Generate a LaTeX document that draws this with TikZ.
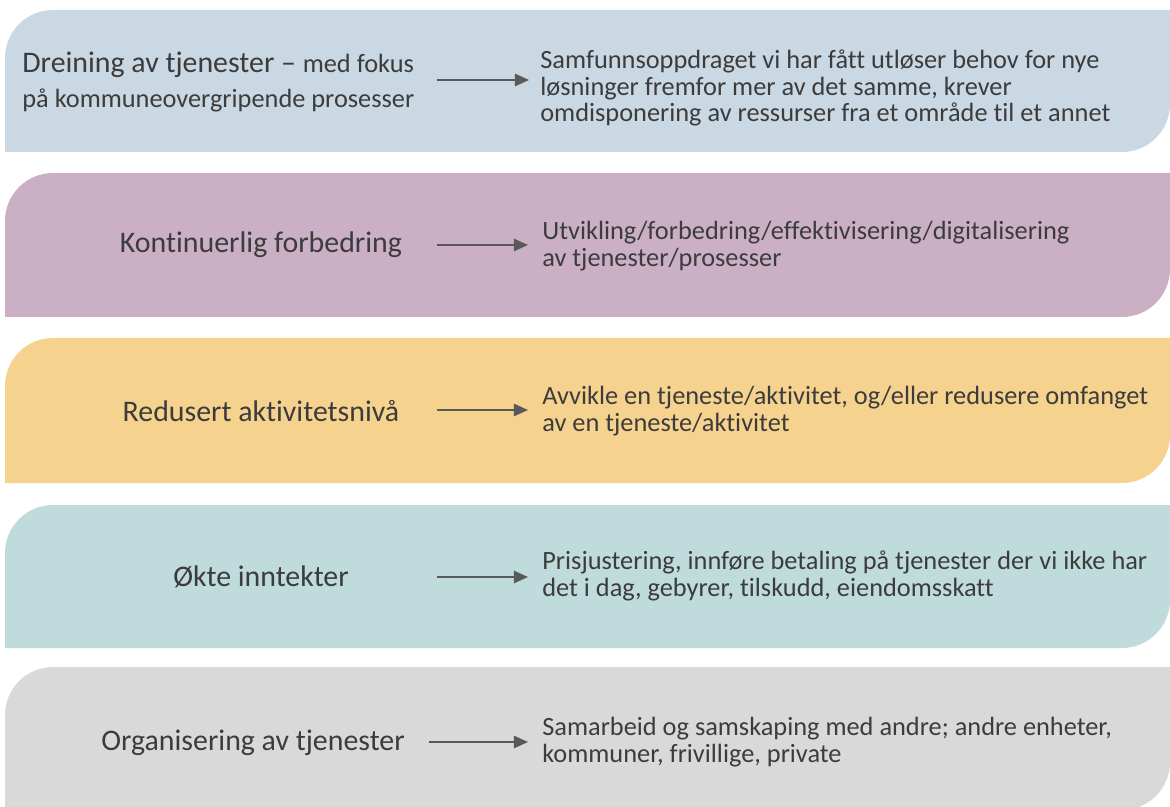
\documentclass[tikz,border=0pt]{standalone}
\usepackage{fontspec}
\setmainfont{Carlito}[Ligatures={NoCommon}]
\usetikzlibrary{arrows.meta}

\definecolor{bandblue}{HTML}{C9D8E2}
\definecolor{bandmauve}{HTML}{CAAFC5}
\definecolor{bandsand}{HTML}{F6D28F}
\definecolor{bandteal}{HTML}{BFDBDB}
\definecolor{bandgrey}{HTML}{D9D9D9}
\definecolor{inkgrey}{HTML}{3C3C3C}

\begin{document}
\begin{tikzpicture}[x=0.02cm, y=-0.02cm,
  lefttext/.style={text=inkgrey, font=\fontsize{17}{21}\selectfont, align=center, inner sep=0pt},
  righttext/.style={anchor=west, text=inkgrey, font=\fontsize{15}{15.3}\selectfont, align=left, inner sep=0pt},
  flow/.style={draw=inkgrey!85, line width=0.9pt, -{Triangle[length=8pt,width=7pt]}}]

\useasboundingbox (0,0) rectangle (1170,807);

% bands
\fill[bandblue] (5,152) -- (5,58) arc[start angle=180, end angle=270, radius=48] -- (1170,10) -- (1170,104) arc[start angle=0, end angle=90, radius=48] -- cycle;
\fill[bandmauve] (5,317) -- (5,221) arc[start angle=180, end angle=270, radius=48] -- (1170,173) -- (1170,269) arc[start angle=0, end angle=90, radius=48] -- cycle;
\fill[bandsand] (5,483) -- (5,386) arc[start angle=180, end angle=270, radius=48] -- (1170,338) -- (1170,435) arc[start angle=0, end angle=90, radius=48] -- cycle;
\fill[bandteal] (5,648) -- (5,553) arc[start angle=180, end angle=270, radius=48] -- (1170,505) -- (1170,600) arc[start angle=0, end angle=90, radius=48] -- cycle;
\fill[bandgrey] (5,810) -- (5,715) arc[start angle=180, end angle=270, radius=48] -- (1170,667) -- (1170,762) arc[start angle=0, end angle=90, radius=48] -- cycle;

% left labels
\node[lefttext, anchor=west, align=left] (dreining) at (22,82) {Dreining av tjenester -- {\fontsize{15}{18}\selectfont med fokus}\\[-1pt]{\fontsize{15}{18}\selectfont på kommuneovergripende prosesser}};
\node[lefttext] (kontinuerlig) at (261,245) {Kontinuerlig forbedring};
\node[lefttext] (redusert) at (261,411) {Redusert aktivitetsnivå};
\node[lefttext] (inntekter) at (261,577) {Økte inntekter};
\node[lefttext] (organisering) at (253,743) {Organisering av tjenester};

% right texts
\node[righttext] (dreiningtxt) at (540,88) {Samfunnsoppdraget vi har fått utløser behov for nye\\løsninger fremfor mer av det samme, krever\\omdisponering av ressurser fra et område til et annet};
\node[righttext] (kontinuerligtxt) at (542,246) {Utvikling/forbedring/effektivisering/digitalisering\\av tjenester/prosesser};
\node[righttext] (redusertxt) at (542,411) {Avvikle en tjeneste/aktivitet, og/eller redusere omfanget\\av en tjeneste/aktivitet};
\node[righttext] (inntektertxt) at (542,576) {Prisjustering, innføre betaling på tjenester der vi ikke har\\det i dag, gebyrer, tilskudd, eiendomsskatt};
\node[righttext] (organiseringtxt) at (542,742) {Samarbeid og samskaping med andre; andre enheter,\\kommuner, frivillige, private};

% arrows
\coordinate (a1) at (437,80);
\coordinate (b1) at (529,80);
\coordinate (a2) at (437,245);
\coordinate (b2) at (528,245);
\coordinate (a3) at (437,410);
\coordinate (b3) at (528,410);
\coordinate (a4) at (437,577);
\coordinate (b4) at (528,577);
\coordinate (a5) at (429,742);
\coordinate (b5) at (528,742);
\draw[flow] (a1) -- (b1);
\draw[flow] (a2) -- (b2);
\draw[flow] (a3) -- (b3);
\draw[flow] (a4) -- (b4);
\draw[flow] (a5) -- (b5);

\end{tikzpicture}
\end{document}
